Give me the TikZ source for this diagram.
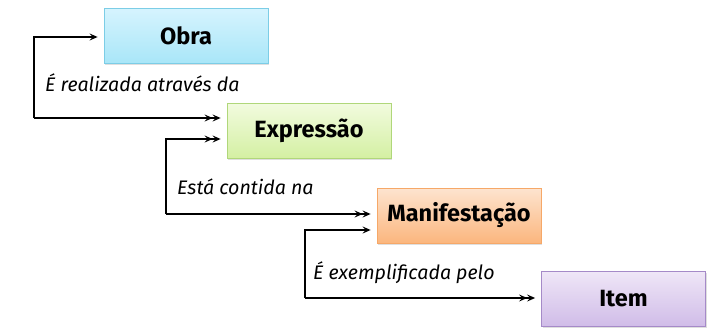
\documentclass[tikz,border=0pt]{standalone}
\usepackage{fontspec}
\setmainfont{Fira Sans}
\usetikzlibrary{arrows.meta,shadows,calc}
\definecolor{obT}{HTML}{D6F4FE}\definecolor{obB}{HTML}{A9E6F8}\definecolor{obD}{HTML}{7CCDE6}
\definecolor{exT}{HTML}{F2FBDF}\definecolor{exB}{HTML}{D4F0A3}\definecolor{exD}{HTML}{B0D77A}
\definecolor{maT}{HTML}{FDE4CF}\definecolor{maB}{HTML}{FBB67E}\definecolor{maD}{HTML}{F6A868}
\definecolor{itT}{HTML}{EFE6F7}\definecolor{itB}{HTML}{D0BCE8}\definecolor{itD}{HTML}{A58AC8}
\tikzset{
  box/.style={minimum width=164pt,minimum height=55pt,inner sep=0pt,line width=0.8pt,
    font=\fontsize{23.5}{27}\selectfont\bfseries,
    drop shadow={shadow xshift=1pt,shadow yshift=-1.5pt,opacity=0.25}},
  lbl/.style={anchor=base west,inner sep=0pt,font=\fontsize{19.6}{23}\selectfont\itshape},
  conn/.style={line width=1.3pt,shorten >=6pt},
  sarrow/.style={conn,-{Stealth[length=8pt,width=7pt,inset=3pt]}},
  darrow/.style={conn,-{Stealth[length=8pt,width=7pt,inset=3pt]Stealth[length=8pt,width=7pt,inset=3pt]}}
}
\begin{document}
\begin{tikzpicture}[x=1pt,y=-1pt]
\useasboundingbox (0,0) rectangle (715,327);
\node[box,draw=obD,top color=obT,bottom color=obB] (obra) at (186,35.5) {Obra};
\node[box,draw=exD,top color=exT,bottom color=exB] (expr) at (309,130.5) {Expressão};
\node[box,draw=maD,top color=maT,bottom color=maB] (mani) at (459,215.5) {Manifestação};
\node[box,draw=itD,top color=itT,bottom color=itB] (item) at (623.5,299) {Item};
\coordinate (a1) at (34,37);
\coordinate (a2) at (34,118);
\coordinate (b1) at (166,139);
\coordinate (b2) at (166,214);
\coordinate (c1) at (305,230);
\coordinate (c2) at (305,298);
\draw[sarrow] (a2) -- (a1) -- (a1 -| obra.west);
\draw[darrow] (a2) -- (a2 -| expr.west);
\draw[darrow] (b2) -- (b1) -- (b1 -| expr.west);
\draw[darrow] (b2) -- (b2 -| mani.west);
\draw[sarrow] (c2) -- (c1) -- (c1 -| mani.west);
\draw[darrow] (c2) -- (c2 -| item.west);
\node[lbl] (l1) at (45,91) {É realizada através da};
\node[lbl] (l2) at (177,194) {Está contida na};
\node[lbl] (l3) at (313,279) {É exemplificada pelo};
\end{tikzpicture}
\end{document}
